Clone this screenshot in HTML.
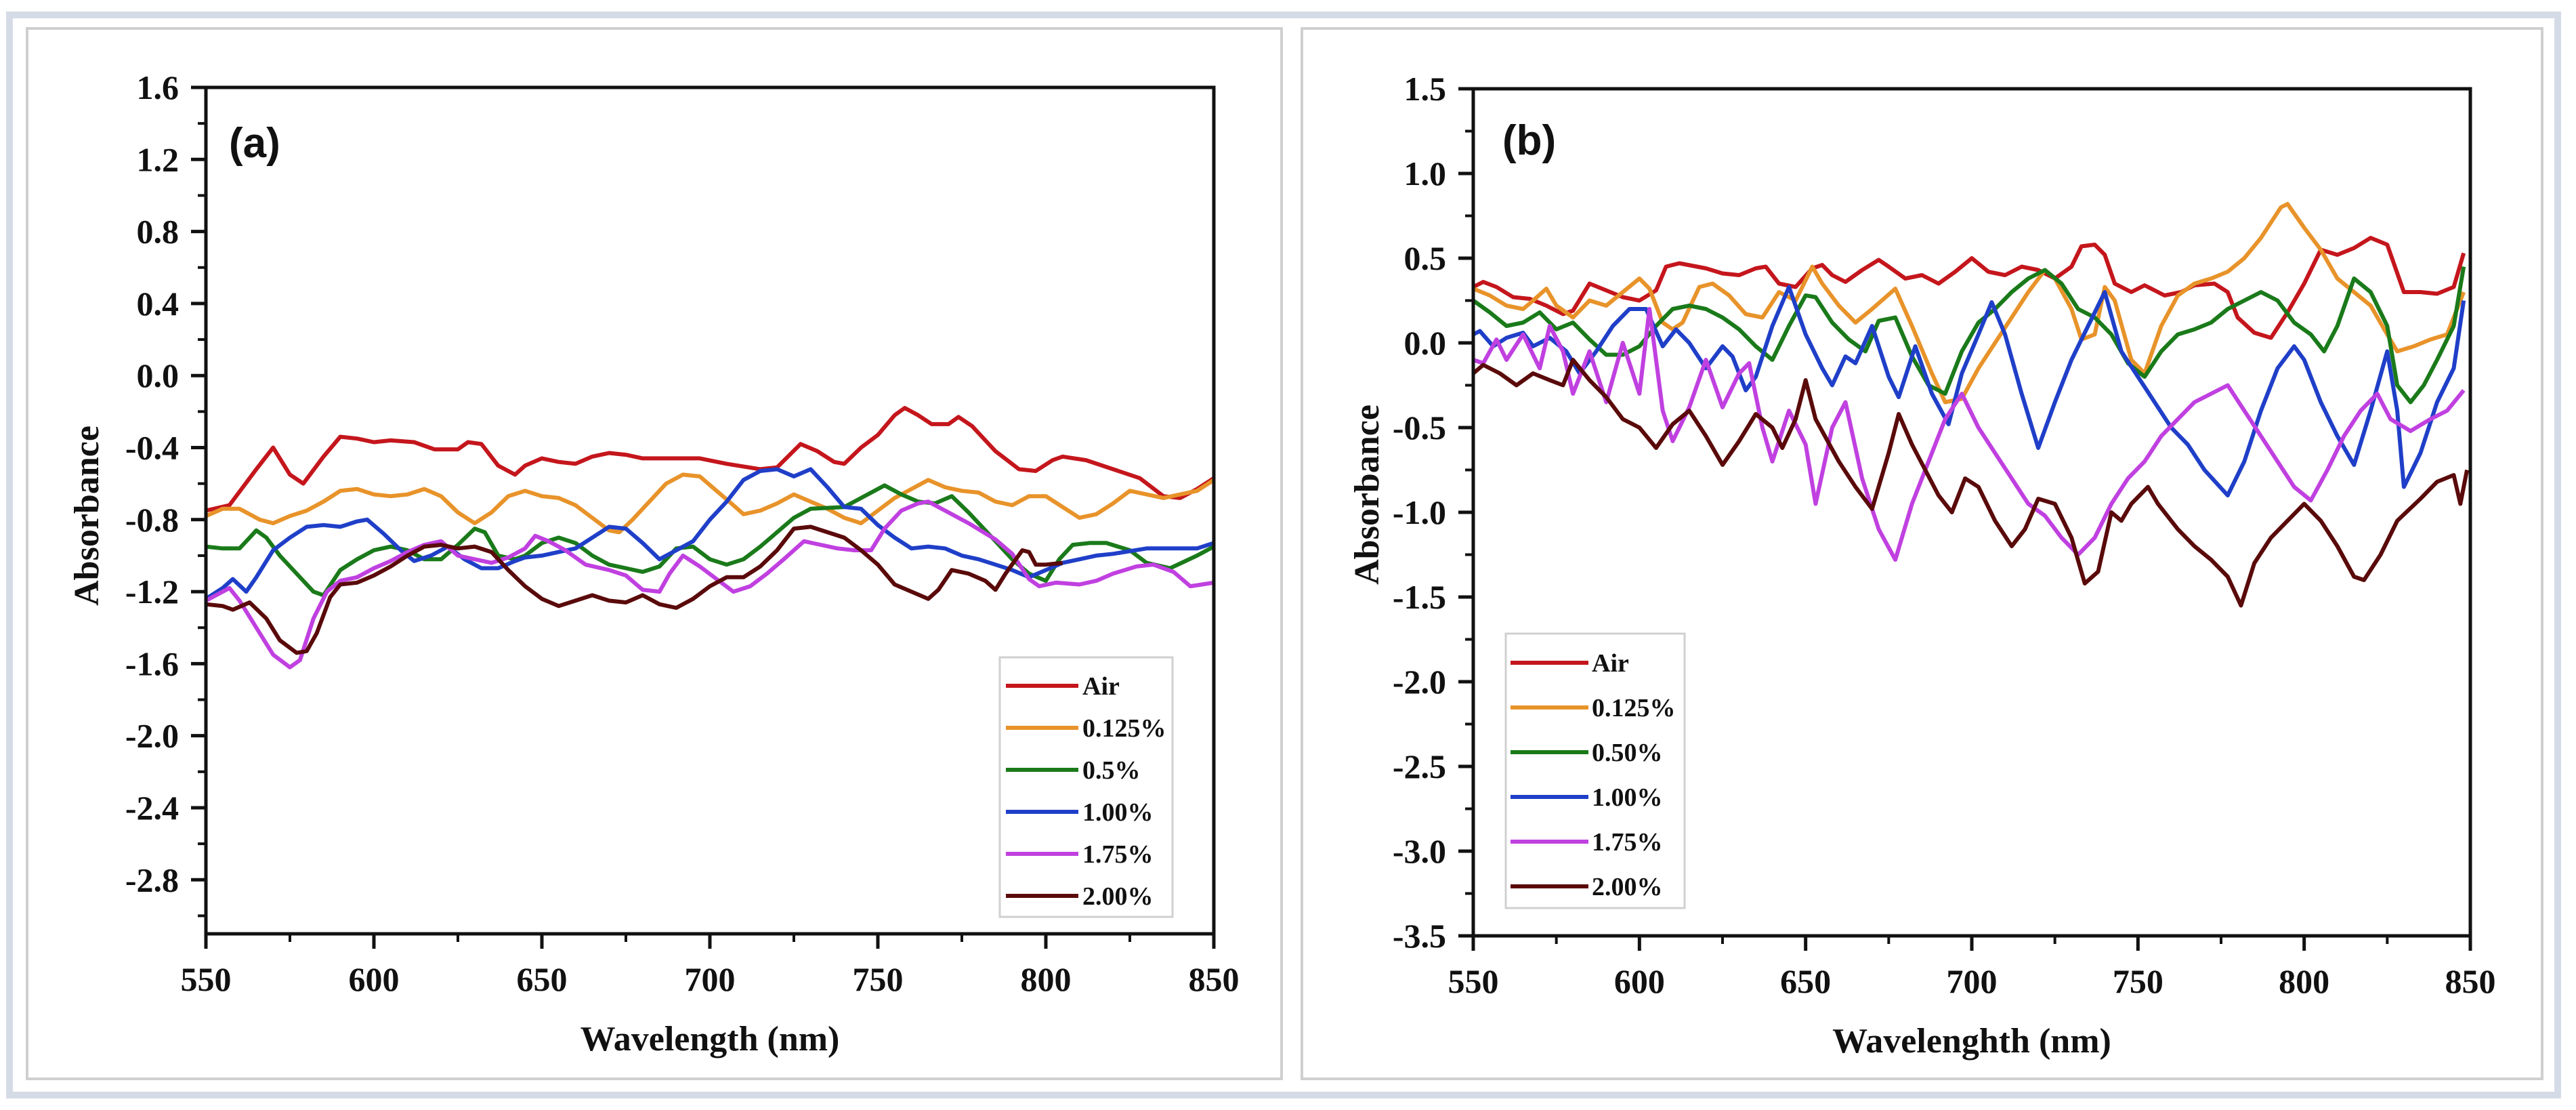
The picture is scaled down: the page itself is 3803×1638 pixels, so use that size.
<!DOCTYPE html>
<html><head><meta charset="utf-8">
<style>
html,body{margin:0;padding:0;background:#fff;}
svg{display:block;}
text{font-family:"Liberation Serif",serif;font-weight:bold;fill:#111;}
</style></head>
<body>
<svg id="chart" width="3803" height="1638" viewBox="0 0 3803 1638" xmlns="http://www.w3.org/2000/svg">
<rect x="0" y="0" width="3803" height="1638" fill="#fff"/>
<rect x="14" y="22" width="3762" height="1594" fill="#fff" stroke="#d5dbe6" stroke-width="10"/>
<rect x="40" y="42" width="1852" height="1550" fill="#fff" stroke="#cfcfcf" stroke-width="4"/>
<rect x="1922" y="42" width="1831" height="1550" fill="#fff" stroke="#cfcfcf" stroke-width="4"/>
<g id="pa"></g>
<g id="pb"></g>
</svg>
<script>
const seriesNames=["Air","0.125%","0.5%","1.00%","1.75%","2.00%"];
const seriesNamesB=["Air","0.125%","0.50%","1.00%","1.75%","2.00%"];
const colors=["#c4161c","#e8932a","#1a7a1a","#1f3fc8","#c040e0","#5a0a0a"];
const xTicks=[550,600,650,700,750,800,850];
const yTicksA=["1.6","1.2","0.8","0.4","0.0","-0.4","-0.8","-1.2","-1.6","-2.0","-2.4","-2.8"];
const yTicksB=["1.5","1.0","0.5","0.0","-0.5","-1.0","-1.5","-2.0","-2.5","-3.0","-3.5"];

const a_air=[[550,-0.75],[557,-0.72],[565,-0.52],[570,-0.40],[575,-0.55],[579,-0.60],[585,-0.45],[590,-0.34],[595,-0.35],[600,-0.37],[605,-0.36],[612,-0.37],[618,-0.41],[625,-0.41],[628,-0.37],[632,-0.38],[637,-0.50],[642,-0.55],[645,-0.50],[650,-0.46],[655,-0.48],[660,-0.49],[665,-0.45],[670,-0.43],[675,-0.44],[680,-0.46],[690,-0.46],[697,-0.46],[705,-0.49],[715,-0.52],[720,-0.51],[727,-0.38],[732,-0.42],[737,-0.48],[740,-0.49],[745,-0.40],[750,-0.33],[755,-0.22],[758,-0.18],[762,-0.22],[766,-0.27],[771,-0.27],[774,-0.23],[778,-0.28],[785,-0.42],[792,-0.52],[797,-0.53],[802,-0.47],[805,-0.45],[812,-0.47],[820,-0.52],[828,-0.57],[835,-0.67],[840,-0.68],[845,-0.63],[850,-0.57]];
const a_125=[[550,-0.78],[555,-0.74],[560,-0.74],[566,-0.80],[570,-0.82],[575,-0.78],[580,-0.75],[585,-0.70],[590,-0.64],[595,-0.63],[600,-0.66],[605,-0.67],[610,-0.66],[615,-0.63],[620,-0.67],[625,-0.76],[630,-0.82],[635,-0.76],[640,-0.67],[645,-0.64],[650,-0.67],[655,-0.68],[660,-0.72],[665,-0.79],[670,-0.86],[673,-0.87],[677,-0.80],[682,-0.70],[687,-0.60],[692,-0.55],[697,-0.56],[702,-0.64],[707,-0.72],[710,-0.77],[715,-0.75],[720,-0.71],[725,-0.66],[730,-0.70],[735,-0.74],[740,-0.79],[745,-0.82],[750,-0.75],[755,-0.68],[760,-0.63],[765,-0.58],[770,-0.62],[775,-0.64],[780,-0.65],[785,-0.70],[790,-0.72],[795,-0.67],[800,-0.67],[805,-0.73],[810,-0.79],[815,-0.77],[820,-0.71],[825,-0.64],[830,-0.66],[835,-0.68],[840,-0.66],[845,-0.64],[850,-0.58]];
const a_05=[[550,-0.95],[555,-0.96],[560,-0.96],[563,-0.90],[565,-0.86],[568,-0.90],[572,-1.00],[577,-1.10],[582,-1.20],[585,-1.22],[590,-1.08],[595,-1.02],[600,-0.97],[605,-0.95],[610,-0.97],[615,-1.02],[620,-1.02],[625,-0.94],[630,-0.85],[633,-0.87],[637,-1.00],[642,-1.02],[645,-1.00],[650,-0.93],[655,-0.90],[660,-0.93],[665,-1.00],[670,-1.05],[675,-1.07],[680,-1.09],[685,-1.06],[690,-0.96],[695,-0.95],[700,-1.02],[705,-1.05],[710,-1.02],[715,-0.95],[720,-0.87],[725,-0.79],[730,-0.74],[740,-0.73],[745,-0.68],[752,-0.61],[757,-0.66],[762,-0.70],[767,-0.71],[772,-0.67],[777,-0.76],[783,-0.88],[790,-1.02],[795,-1.10],[800,-1.14],[804,-1.02],[808,-0.94],[813,-0.93],[818,-0.93],[825,-0.97],[830,-1.04],[837,-1.07],[845,-1.00],[850,-0.95]];
const a_100=[[550,-1.24],[555,-1.18],[558,-1.13],[562,-1.20],[565,-1.12],[570,-0.97],[575,-0.90],[580,-0.84],[585,-0.83],[590,-0.84],[595,-0.81],[598,-0.80],[603,-0.88],[608,-0.97],[612,-1.03],[617,-1.00],[622,-0.95],[627,-1.02],[632,-1.07],[637,-1.07],[642,-1.03],[645,-1.01],[650,-1.00],[655,-0.98],[660,-0.96],[665,-0.90],[670,-0.84],[675,-0.85],[680,-0.93],[685,-1.02],[690,-0.97],[695,-0.92],[700,-0.80],[705,-0.70],[710,-0.58],[715,-0.53],[720,-0.52],[725,-0.56],[730,-0.52],[735,-0.62],[740,-0.73],[745,-0.74],[750,-0.83],[755,-0.90],[760,-0.96],[765,-0.95],[770,-0.96],[775,-1.00],[780,-1.02],[785,-1.05],[790,-1.08],[795,-1.12],[800,-1.08],[805,-1.04],[810,-1.02],[815,-1.00],[820,-0.99],[830,-0.96],[840,-0.96],[845,-0.96],[850,-0.93]];
const a_175=[[550,-1.25],[555,-1.20],[557,-1.18],[560,-1.25],[565,-1.40],[570,-1.55],[575,-1.62],[578,-1.58],[582,-1.35],[586,-1.20],[590,-1.14],[595,-1.12],[600,-1.07],[605,-1.03],[610,-0.98],[615,-0.94],[620,-0.92],[625,-1.00],[630,-1.02],[635,-1.04],[640,-1.01],[645,-0.96],[648,-0.89],[652,-0.92],[657,-0.97],[663,-1.05],[670,-1.08],[675,-1.11],[680,-1.19],[685,-1.20],[688,-1.10],[692,-1.00],[697,-1.06],[702,-1.13],[707,-1.20],[712,-1.17],[717,-1.10],[722,-1.02],[728,-0.92],[733,-0.94],[738,-0.96],[743,-0.97],[748,-0.97],[752,-0.85],[757,-0.75],[762,-0.71],[765,-0.70],[770,-0.75],[777,-0.82],[785,-0.91],[790,-0.99],[795,-1.13],[798,-1.17],[803,-1.15],[810,-1.16],[815,-1.14],[820,-1.10],[827,-1.06],[832,-1.05],[838,-1.09],[843,-1.17],[850,-1.15]];
const a_200=[[550,-1.27],[555,-1.28],[558,-1.30],[563,-1.26],[568,-1.35],[572,-1.47],[577,-1.54],[580,-1.53],[583,-1.43],[587,-1.23],[590,-1.16],[595,-1.15],[600,-1.11],[605,-1.06],[610,-1.00],[615,-0.95],[620,-0.94],[625,-0.96],[630,-0.95],[635,-0.98],[640,-1.08],[645,-1.17],[650,-1.24],[655,-1.28],[660,-1.25],[665,-1.22],[670,-1.25],[675,-1.26],[680,-1.22],[685,-1.27],[690,-1.29],[695,-1.24],[700,-1.17],[705,-1.12],[710,-1.12],[715,-1.06],[720,-0.97],[725,-0.85],[730,-0.84],[735,-0.87],[740,-0.90],[745,-0.97],[750,-1.05],[755,-1.16],[760,-1.20],[765,-1.24],[768,-1.19],[772,-1.08],[777,-1.10],[782,-1.14],[785,-1.19],[788,-1.10],[793,-0.97],[795,-0.98],[797,-1.05],[800,-1.05],[805,-1.04]];

const b_air=[[550,0.33],[553,0.36],[557,0.33],[562,0.27],[567,0.26],[572,0.22],[577,0.17],[580,0.19],[585,0.35],[590,0.31],[595,0.27],[600,0.25],[605,0.31],[608,0.45],[612,0.47],[620,0.44],[625,0.41],[630,0.40],[635,0.44],[638,0.45],[642,0.35],[647,0.33],[652,0.44],[655,0.46],[658,0.40],[662,0.36],[667,0.43],[672,0.49],[675,0.45],[680,0.38],[685,0.40],[690,0.35],[695,0.42],[700,0.50],[705,0.42],[710,0.40],[715,0.45],[720,0.43],[725,0.38],[730,0.45],[733,0.57],[737,0.58],[740,0.52],[743,0.35],[748,0.30],[752,0.34],[755,0.31],[758,0.28],[763,0.30],[767,0.34],[773,0.35],[777,0.30],[780,0.15],[785,0.06],[790,0.03],[795,0.18],[800,0.35],[805,0.55],[810,0.52],[815,0.56],[820,0.62],[825,0.58],[830,0.30],[835,0.30],[840,0.29],[845,0.33],[848,0.53]];
const b_125=[[550,0.32],[555,0.28],[560,0.22],[565,0.20],[568,0.25],[572,0.32],[575,0.22],[580,0.15],[585,0.25],[590,0.22],[595,0.30],[600,0.38],[603,0.32],[607,0.12],[610,0.08],[613,0.12],[618,0.33],[622,0.35],[627,0.28],[632,0.17],[637,0.15],[642,0.30],[647,0.25],[652,0.45],[655,0.35],[660,0.22],[665,0.12],[670,0.20],[677,0.32],[682,0.10],[688,-0.18],[692,-0.35],[697,-0.33],[702,-0.15],[707,0.00],[712,0.15],[717,0.30],[722,0.43],[725,0.38],[730,0.20],[733,0.02],[737,0.05],[740,0.33],[743,0.25],[748,-0.10],[752,-0.18],[757,0.10],[762,0.28],[767,0.35],[772,0.38],[777,0.42],[782,0.50],[787,0.62],[793,0.80],[795,0.82],[800,0.68],[805,0.55],[810,0.38],[815,0.30],[820,0.22],[825,0.05],[828,-0.05],[833,-0.02],[838,0.02],[843,0.05],[848,0.30]];
const b_05=[[550,0.25],[555,0.18],[560,0.10],[565,0.12],[570,0.18],[575,0.08],[580,0.12],[585,0.02],[590,-0.07],[595,-0.07],[600,-0.02],[605,0.10],[610,0.20],[615,0.22],[620,0.20],[625,0.15],[630,0.08],[635,-0.02],[640,-0.10],[645,0.10],[650,0.28],[653,0.27],[658,0.12],[663,0.02],[668,-0.05],[672,0.13],[677,0.15],[682,-0.08],[687,-0.25],[692,-0.30],[697,-0.05],[702,0.12],[707,0.20],[712,0.30],[717,0.38],[722,0.43],[727,0.35],[732,0.20],[737,0.15],[742,0.05],[747,-0.12],[752,-0.20],[757,-0.05],[762,0.05],[767,0.08],[772,0.12],[777,0.20],[782,0.25],[787,0.30],[792,0.25],[797,0.12],[802,0.05],[806,-0.05],[810,0.10],[815,0.38],[820,0.30],[825,0.10],[828,-0.25],[832,-0.35],[836,-0.25],[840,-0.10],[845,0.10],[848,0.45]];
const b_100=[[550,0.05],[552,0.07],[556,-0.02],[560,0.03],[565,0.06],[568,-0.02],[573,0.03],[578,-0.05],[582,-0.18],[587,-0.05],[592,0.10],[597,0.20],[602,0.20],[607,-0.02],[611,0.08],[615,0.00],[620,-0.15],[625,-0.02],[628,-0.08],[632,-0.28],[635,-0.20],[640,0.10],[645,0.33],[650,0.05],[655,-0.15],[658,-0.25],[662,-0.08],[665,-0.12],[670,0.10],[675,-0.20],[678,-0.32],[683,-0.02],[688,-0.30],[693,-0.48],[697,-0.18],[702,0.05],[706,0.24],[710,0.05],[715,-0.30],[720,-0.62],[725,-0.35],[730,-0.10],[735,0.10],[740,0.30],[745,-0.05],[750,-0.20],[755,-0.35],[760,-0.50],[765,-0.60],[770,-0.75],[777,-0.90],[782,-0.70],[787,-0.40],[792,-0.15],[797,-0.02],[800,-0.10],[805,-0.35],[810,-0.55],[815,-0.72],[820,-0.40],[825,-0.05],[828,-0.40],[830,-0.85],[835,-0.65],[840,-0.35],[845,-0.15],[848,0.25]];
const b_175=[[550,-0.10],[553,-0.12],[557,0.02],[560,-0.10],[565,0.05],[570,-0.15],[573,0.10],[577,-0.05],[580,-0.30],[585,-0.05],[590,-0.35],[595,0.00],[600,-0.30],[603,0.20],[607,-0.40],[610,-0.58],[615,-0.38],[620,-0.10],[625,-0.38],[630,-0.18],[633,-0.12],[637,-0.50],[640,-0.70],[645,-0.40],[650,-0.60],[653,-0.95],[658,-0.50],[662,-0.35],[667,-0.80],[672,-1.10],[677,-1.28],[682,-0.95],[687,-0.70],[692,-0.45],[697,-0.30],[702,-0.50],[707,-0.65],[712,-0.80],[717,-0.95],[722,-1.02],[727,-1.15],[732,-1.25],[737,-1.15],[742,-0.95],[747,-0.80],[752,-0.70],[757,-0.55],[762,-0.45],[767,-0.35],[772,-0.30],[777,-0.25],[782,-0.40],[787,-0.55],[792,-0.70],[797,-0.85],[802,-0.93],[807,-0.75],[812,-0.55],[817,-0.40],[822,-0.30],[826,-0.45],[832,-0.52],[838,-0.45],[843,-0.40],[848,-0.28]];
const b_200=[[550,-0.18],[553,-0.13],[558,-0.18],[563,-0.25],[568,-0.18],[573,-0.22],[577,-0.25],[580,-0.10],[585,-0.22],[590,-0.32],[595,-0.45],[600,-0.50],[605,-0.62],[610,-0.48],[615,-0.40],[620,-0.55],[625,-0.72],[630,-0.58],[635,-0.42],[640,-0.50],[643,-0.62],[647,-0.45],[650,-0.22],[653,-0.45],[660,-0.70],[665,-0.85],[670,-0.98],[675,-0.65],[678,-0.42],[682,-0.60],[686,-0.75],[690,-0.90],[694,-1.00],[698,-0.80],[702,-0.85],[707,-1.05],[712,-1.20],[716,-1.10],[720,-0.92],[725,-0.95],[730,-1.15],[734,-1.42],[738,-1.35],[742,-1.00],[745,-1.05],[748,-0.95],[753,-0.85],[756,-0.95],[762,-1.10],[767,-1.20],[772,-1.28],[777,-1.38],[781,-1.55],[785,-1.30],[790,-1.15],[795,-1.05],[800,-0.95],[805,-1.05],[810,-1.20],[815,-1.38],[818,-1.40],[823,-1.25],[828,-1.05],[835,-0.92],[840,-0.82],[845,-0.78],[847,-0.95],[849,-0.75]];

const NS="http://www.w3.org/2000/svg";
function mk(parent,tag,attrs,txt){const e=document.createElementNS(NS,tag);for(const k in attrs)e.setAttribute(k,attrs[k]);if(txt!==undefined)e.textContent=txt;parent.appendChild(e);return e;}

function panel(g,cfg){
  const xs=v=>cfg.x0+(v-550)/300*(cfg.x1-cfg.x0);
  const ys=v=>cfg.y0+(cfg.ymax-v)/(cfg.ymax-cfg.ymin)*(cfg.y1-cfg.y0);
  // series
  cfg.series.forEach((s,i)=>{
    const d=s.map((p,j)=>(j?"L":"M")+xs(p[0]).toFixed(1)+","+ys(p[1]).toFixed(1)).join("");
    const p=mk(g,"path",{d:d,fill:"none",stroke:colors[i],"stroke-width":6,"stroke-linejoin":"round"});
    
    
  });
  const box=mk(g,"rect",{x:cfg.x0,y:cfg.y0,width:cfg.x1-cfg.x0,height:cfg.y1-cfg.y0,fill:"none",stroke:"#111","stroke-width":5});
  
  
  // x ticks
  xTicks.forEach(t=>{
    const x=xs(t);
    mk(g,"line",{x1:x,x2:x,y1:cfg.y1,y2:cfg.y1+22,stroke:"#111","stroke-width":5});
    const lb=mk(g,"text",{x:x,y:cfg.y1+84,"text-anchor":"middle","font-size":50},String(t));
    
    
  });
  for(let t=575;t<850;t+=50){const x=xs(t);mk(g,"line",{x1:x,x2:x,y1:cfg.y1,y2:cfg.y1+12,stroke:"#111","stroke-width":4});}
  // y ticks
  cfg.yTicks.forEach(t=>{
    const y=ys(parseFloat(t));
    mk(g,"line",{x1:cfg.x0-22,x2:cfg.x0,y1:y,y2:y,stroke:"#111","stroke-width":5});
    const lb=mk(g,"text",{x:cfg.x0-40,y:y+17,"text-anchor":"end","font-size":50},t);
    
    
  });
  for(let v=cfg.ymax-cfg.step/2;v>cfg.ymin;v-=cfg.step){const y=ys(v);mk(g,"line",{x1:cfg.x0-12,x2:cfg.x0,y1:y,y2:y,stroke:"#111","stroke-width":4});}
  const xt=mk(g,"text",{x:(cfg.x0+cfg.x1)/2,y:cfg.y1+172,"text-anchor":"middle","font-size":52},cfg.xtitle);
  
  
  const yt=mk(g,"text",{x:0,y:0,"text-anchor":"middle","font-size":52,transform:"translate("+cfg.ytx+","+cfg.yty+") rotate(-90)"},"Absorbance");
  
  
  const pl=mk(g,"text",{x:cfg.px,y:cfg.py,"font-size":62,style:"font-family:'Liberation Sans',sans-serif"},cfg.plabel);
  
  
  // legend
  const L=cfg.leg;
  const lg=mk(g,"g",{});
  
  
  mk(lg,"rect",{x:L.x,y:L.y,width:L.w,height:L.h,fill:"#fff",stroke:"#d0d0d0","stroke-width":3});
  cfg.names.forEach((n,i)=>{
    const y=L.ey0+i*L.dy;
    const e=mk(lg,"g",{});
    
    
    mk(e,"line",{x1:L.lx0,x2:L.lx1,y1:y,y2:y,stroke:colors[i],"stroke-width":6});
    mk(e,"text",{x:L.tx,y:y+13,"font-size":38},n);
  });
}
panel(document.getElementById("pa"),{x0:304,x1:1792,y0:129,y1:1378,ymax:1.6,ymin:-3.1,step:0.4,yTicks:yTicksA,
  series:[a_air,a_125,a_05,a_100,a_175,a_200],names:seriesNames,xtitle:"Wavelength (nm)",ytx:145,yty:761,px:338,py:232,plabel:"(a)",
  leg:{x:1476,y:970,w:255,h:383,ey0:1012,dy:62,lx0:1485,lx1:1592,tx:1598}});
panel(document.getElementById("pb"),{x0:2175,x1:3647,y0:131,y1:1381,ymax:1.5,ymin:-3.5,step:0.5,yTicks:yTicksB,
  series:[b_air,b_125,b_05,b_100,b_175,b_200],names:seriesNamesB,xtitle:"Wavelenghth (nm)",ytx:2035,yty:730,px:2218,py:228,plabel:"(b)",
  leg:{x:2223,y:935,w:264,h:405,ey0:978,dy:66,lx0:2230,lx1:2345,tx:2350}});
</script>
</body></html>
